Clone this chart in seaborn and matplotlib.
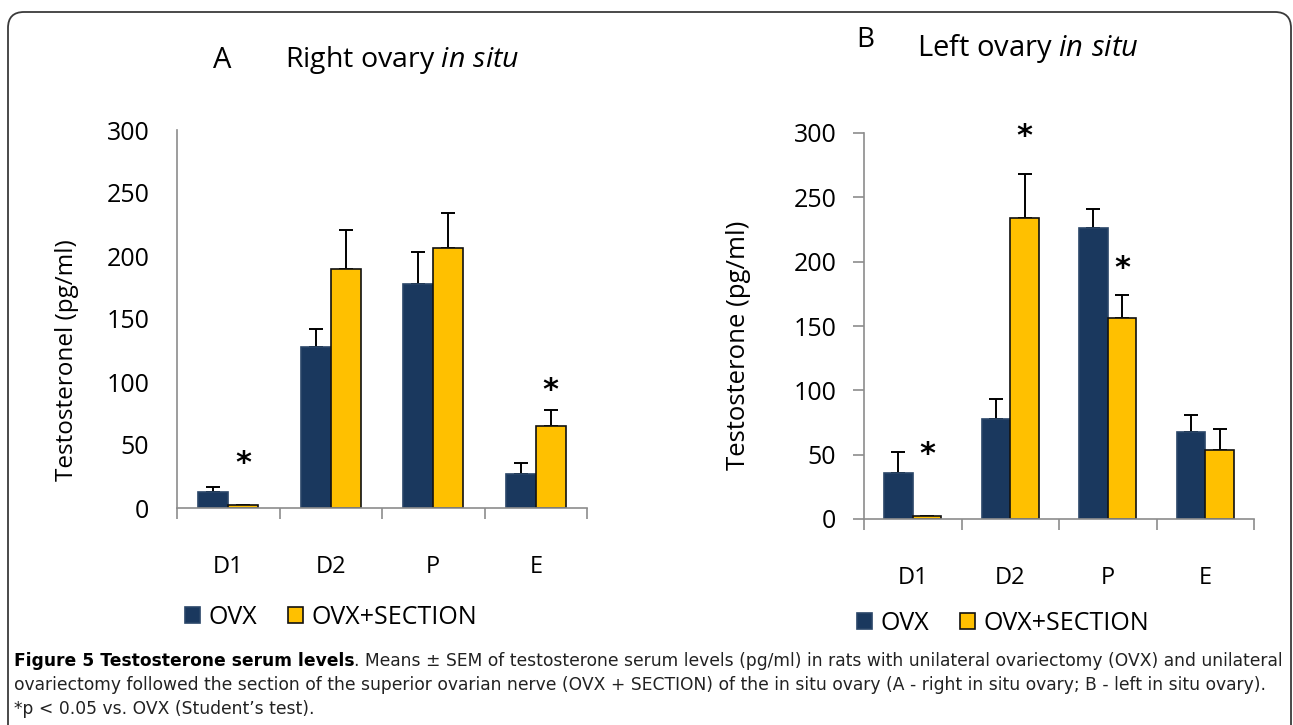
import numpy as np
import pandas as pd
import seaborn as sns
import matplotlib
from matplotlib import pyplot as plt
from matplotlib.patches import FancyBboxPatch

groups = ["D1", "D2", "P", "E"]
series = ["OVX", "OVX+SECTION"]

right_ovx = [13, 128, 178, 27]
right_ovx_sem = [4, 14, 25, 9]
right_sec = [2, 190, 206, 65]
right_sec_sem = [0.5, 31, 28, 13]

left_ovx = [36, 78, 226, 68]
left_ovx_sem = [16, 15, 15, 13]
left_sec = [2, 234, 156, 54]
left_sec_sem = [0.5, 34, 18, 16]

# where the asterisks sit (value axis), over the OVX+SECTION bar
right_stars = {"D1": 35, "E": 93}
left_stars = {"D1": 50, "D2": 297, "P": 195}

caption_bold = "Figure 5 Testosterone serum levels"
caption_lines = [
    ". Means ± SEM of testosterone serum levels (pg/ml) in rats with unilateral "
    "ovariectomy (OVX) and unilateral",
    "ovariectomy followed the section of the superior ovarian nerve (OVX + SECTION) "
    "of the in situ ovary (A - right in situ ovary; B - left in situ ovary).",
    "*p < 0.05 vs. OVX (Student’s test).",
]

colors = ["#1a385e", "#ffc000"]

sns.set_style("white")
plt.rcParams["font.family"] = ["Open Sans", "DejaVu Sans"]
plt.rcParams["mathtext.fontset"] = "custom"
plt.rcParams["mathtext.rm"] = "Open Sans"
plt.rcParams["mathtext.it"] = "Open Sans:italic"
plt.rcParams["text.color"] = "black"
plt.rcParams["axes.labelcolor"] = "black"
plt.rcParams["xtick.labelcolor"] = "black"
plt.rcParams["ytick.labelcolor"] = "black"


def make_df(ovx, sec, ovx_sem, sec_sem):
    rows = []
    for g, a, b, ea, eb in zip(groups, ovx, sec, ovx_sem, sec_sem):
        rows.append({"group": g, "series": series[0], "value": a, "sem": ea})
        rows.append({"group": g, "series": series[1], "value": b, "sem": eb})
    return pd.DataFrame(rows)


def draw_panel(ax, df, stars, ylabel, yticks_out, label_pos, label_size):
    sns.barplot(data=df, x="group", y="value", hue="series", order=groups,
                hue_order=series, palette=colors, width=0.585, errorbar=None,
                saturation=1, ax=ax)
    if ax.get_legend() is not None:
        ax.get_legend().remove()
    # one-sided SEM bars
    for cont, s in zip(ax.containers, series):
        sub = df[df["series"] == s].set_index("group").loc[groups]
        xs = [b.get_x() + b.get_width() / 2 for b in cont]
        ax.errorbar(xs, sub["value"], yerr=[np.zeros(len(xs)), sub["sem"]],
                    fmt="none", ecolor="black", elinewidth=1.4, capsize=5,
                    capthick=1.4, zorder=1)
        for b in cont:
            b.set_zorder(2)
            b.set_edgecolor("#111111" if s == series[1] else "#2a4668")
            b.set_linewidth(1.2)
    sec_bars = ax.containers[1]
    for g, yv in stars.items():
        b = sec_bars[groups.index(g)]
        ax.text(b.get_x() + b.get_width() / 2, yv, "*", ha="center", va="center",
                fontsize=22, fontweight="bold", family="DejaVu Sans")
    ax.set_ylim(0, 300)
    ax.set_xlim(-0.5, 3.5)
    ax.set_yticks(range(0, 301, 50))
    ax.set_xlabel("")
    ax.set_ylabel(ylabel, fontsize=label_size)
    ax.yaxis.set_label_coords(label_pos[0], label_pos[1])
    for sp in ["top", "right"]:
        ax.spines[sp].set_visible(False)
    for sp in ["left", "bottom"]:
        ax.spines[sp].set_color("#8c8c8c")
        ax.spines[sp].set_linewidth(1.2)
    ax.set_xticks(np.arange(-0.5, 4.0, 1.0), minor=True)
    ax.tick_params(axis="x", which="major", length=0, pad=34, labelsize=17)
    ax.tick_params(axis="x", which="minor", length=8, width=1.2, color="#8c8c8c",
                   direction="out", bottom=True)
    if yticks_out:
        ax.tick_params(axis="y", length=8, width=1.2, color="#8c8c8c",
                       direction="out", left=True, pad=12, labelsize=18)
    else:
        ax.tick_params(axis="y", length=0, pad=20, labelsize=18)


fig = plt.figure(figsize=(12.93, 7.25), dpi=100)

# background frame in pixel coordinates
bg = fig.add_axes([0, 0, 1, 1], zorder=-5)
bg.set_xlim(0, 1293)
bg.set_ylim(725, 0)
bg.axis("off")
bg.add_patch(FancyBboxPatch((8, 12), 1283, 800,
                            boxstyle="round,pad=0,rounding_size=16",
                            fc="white", ec="#3a3a3a", lw=1.3))

ax_a = fig.add_axes([177 / 1293, 1 - 508 / 725, 410 / 1293, 378 / 725])
ax_b = fig.add_axes([864 / 1293, 1 - 519 / 725, 390 / 1293, 386 / 725])

draw_panel(ax_a, make_df(right_ovx, right_sec, right_ovx_sem, right_sec_sem),
           right_stars, "Testosteronel (pg/ml)", False, (-0.24, 0.39), 17.5)
draw_panel(ax_b, make_df(left_ovx, left_sec, left_ovx_sem, left_sec_sem),
           left_stars, "Testosterone (pg/ml)", True, (-0.29, 0.45), 18.5)

# panel titles
bg.text(222, 60, "A", fontsize=21, ha="center", va="center")
bg.text(285, 60, r"Right ovary $\it{in\ situ}$", fontsize=20.5, ha="left", va="center")
bg.text(865, 40, "B", fontsize=20, ha="center", va="center")
bg.text(917, 48, r"Left ovary $\it{in\ situ}$", fontsize=21, ha="left", va="center")

# legends
for ax, xy in [(ax_a, (185, 617)), (ax_b, (857, 623))]:
    handles = [ax.containers[0][0], ax.containers[1][0]]
    bx = xy[0] / 1293
    by = 1 - xy[1] / 725
    fig.legend(handles, series, loc="center left", bbox_to_anchor=(bx, by),
               ncol=2, frameon=False, fontsize=18, handlelength=0.6,
               handleheight=0.6, handletextpad=0.35, columnspacing=1.2,
               borderpad=0, borderaxespad=0)

# caption, sized so the first two lines span the frame like the original
cap_font = ["Liberation Sans Narrow", "DejaVu Sans"]
cap_color = "#222222"
fig.canvas.draw()
r = fig.canvas.get_renderer()
base = 12.0
probe_b = bg.text(0, 0, caption_bold, fontsize=base, fontweight="bold", family=cap_font)
probe_1 = bg.text(0, 0, caption_lines[0], fontsize=base, family=cap_font)
probe_2 = bg.text(0, 0, caption_lines[1], fontsize=base, family=cap_font)
w1 = probe_b.get_window_extent(r).width + probe_1.get_window_extent(r).width
w2 = probe_2.get_window_extent(r).width
for p in (probe_b, probe_1, probe_2):
    p.remove()
size = base * 1262 / max(w1, w2)

t1 = bg.text(14, 661, caption_bold, fontsize=size, fontweight="bold",
             family=cap_font, va="center", color="black")
fig.canvas.draw()
bb = t1.get_window_extent(renderer=r)
bg.text(bb.x1, 661, caption_lines[0], fontsize=size, family=cap_font,
        va="center", ha="left", color=cap_color)
bg.text(14, 685, caption_lines[1], fontsize=size, family=cap_font, va="center",
        color=cap_color)
bg.text(14, 709, caption_lines[2], fontsize=size, family=cap_font, va="center",
        color=cap_color)

fig.savefig("out.png", dpi=100)
